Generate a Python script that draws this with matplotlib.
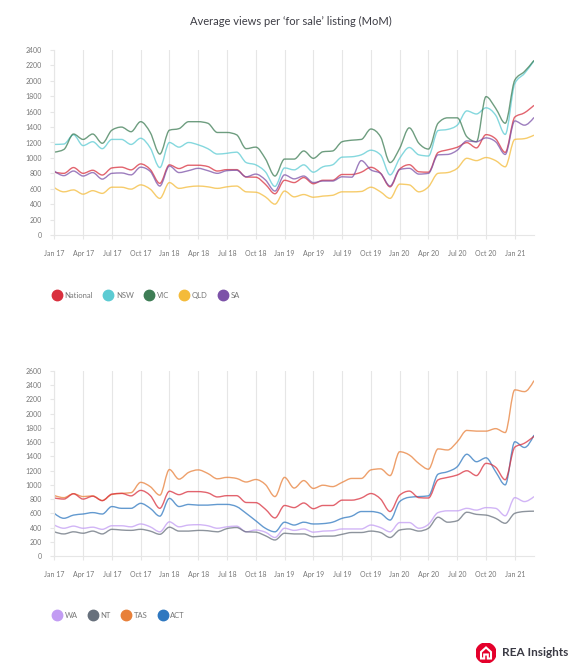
import numpy as np
import matplotlib.pyplot as plt
from matplotlib.lines import Line2D
from matplotlib.patches import Circle, Polygon, PathPatch
from matplotlib.path import Path

# monthly values, Jan 17 .. Mar 21 (51 months)
national = [815, 800, 875, 800, 840, 778, 870, 880, 845, 922, 850, 670, 910, 862, 905, 905, 888, 830, 848, 848, 752, 750, 658, 535, 710, 680,
            745, 665, 710, 710, 785, 785, 815, 878, 802, 625, 855, 912, 820, 815, 1070, 1105, 1138, 1198, 1130, 1302, 1248, 1072, 1530, 1585, 1682]
nsw = [1175, 1180, 1300, 1160, 1210, 1120, 1240, 1240, 1175, 1255, 1130, 875, 1200, 1140, 1200, 1170, 1120, 1050, 1060, 1075, 940, 910, 820, 630, 870, 845,
       910, 815, 885, 910, 1010, 1015, 1040, 1100, 1040, 780, 995, 1135, 1040, 1025, 1355, 1370, 1425, 1610, 1570, 1650, 1555, 1305, 1965, 2095, 2260]
vic = [1075, 1110, 1310, 1240, 1310, 1190, 1360, 1400, 1340, 1470, 1330, 1050, 1360, 1380, 1470, 1470, 1450, 1330, 1330, 1300, 1120, 1140, 990, 765, 985, 985,
       1090, 995, 1080, 1090, 1210, 1230, 1240, 1375, 1275, 940, 1125, 1390, 1190, 1115, 1450, 1520, 1520, 1275, 1210, 1795, 1645, 1450, 2010, 2120, 2265]
qld = [615, 560, 585, 530, 575, 540, 620, 620, 595, 650, 595, 475, 680, 605, 625, 635, 625, 605, 625, 635, 560, 555, 495, 400, 570, 495,
       525, 490, 505, 515, 560, 560, 565, 620, 560, 475, 660, 650, 560, 625, 800, 810, 865, 995, 965, 1005, 965, 885, 1240, 1250, 1295]
sa = [830, 770, 830, 765, 810, 725, 800, 805, 780, 880, 825, 635, 895, 810, 835, 865, 835, 800, 835, 840, 755, 790, 715, 570, 780, 728,
      765, 680, 700, 700, 755, 750, 965, 845, 800, 635, 850, 865, 790, 800, 1040, 1045, 1100, 1220, 1210, 1260, 1210, 1045, 1480, 1425, 1525]
wa = [435, 390, 420, 390, 405, 375, 425, 425, 410, 450, 410, 340, 480, 410, 435, 440, 425, 390, 410, 420, 340, 365, 335, 260, 390, 360,
      380, 335, 350, 355, 380, 380, 380, 435, 400, 340, 470, 470, 390, 445, 610, 635, 635, 670, 645, 680, 670, 565, 820, 765, 835]
nt = [340, 310, 340, 320, 350, 310, 375, 365, 360, 375, 350, 305, 405, 350, 350, 360, 355, 340, 385, 400, 340, 335, 285, 225, 320, 310,
      310, 270, 280, 280, 305, 330, 330, 350, 330, 260, 365, 380, 350, 390, 545, 475, 495, 615, 585, 575, 530, 460, 600, 625, 630]
tas = [850, 820, 875, 835, 845, 780, 865, 880, 890, 1035, 975, 855, 1215, 1080, 1175, 1210, 1160, 1085, 1105, 1090, 1040, 1075, 1005, 835, 1105, 955,
       1060, 950, 995, 975, 1035, 1090, 1090, 1210, 1225, 1130, 1465, 1420, 1300, 1220, 1505, 1490, 1605, 1765, 1755, 1755, 1790, 1735, 2335, 2310, 2465]
act = [600, 530, 575, 590, 610, 590, 695, 670, 670, 740, 670, 560, 810, 695, 725, 715, 715, 725, 725, 695, 600, 495, 390, 340, 475, 435,
       475, 450, 455, 475, 530, 560, 625, 625, 600, 505, 765, 825, 835, 845, 1150, 1185, 1255, 1430, 1325, 1380, 1185, 1000, 1605, 1525, 1700]

tick_labels = ["Jan 17", "Apr 17", "Jul 17", "Oct 17", "Jan 18", "Apr 18", "Jul 18", "Oct 18", "Jan 19",
               "Apr 19", "Jul 19", "Oct 19", "Jan 20", "Apr 20", "Jul 20", "Oct 20", "Jan 21"]

top_names = ["National", "NSW", "VIC", "QLD", "SA"]
top_data = [national, nsw, vic, qld, sa]
top_colors = ["#d9303e", "#5ccbd3", "#3e7d55", "#f4bb3a", "#7c52a8"]
bot_names = ["WA", "NT", "TAS", "ACT"]
bot_data = [wa, nt, tas, act]
bot_colors = ["#c29cf3", "#67707c", "#e8803a", "#2f78c0"]

plt.rcParams['font.family'] = ['Lato', 'DejaVu Sans']
grid_col = "#e6e6e6"
lab_col = "#777777"


def monotone_line(ax, y, color):
    # smooth monotone cubic through the monthly points (drawn as bezier path)
    y = np.asarray(y, dtype=float)
    x = np.arange(len(y), dtype=float)
    s = np.diff(y)
    t = np.zeros(len(y))
    for i in range(1, len(y) - 1):
        p = (s[i - 1] + s[i]) / 2
        t[i] = (np.sign(s[i - 1]) + np.sign(s[i])) * min(abs(s[i - 1]), abs(s[i]), 0.5 * abs(p))
    t[0] = (3 * s[0] - t[1]) / 2
    t[-1] = (3 * s[-1] - t[-2]) / 2
    verts = [(x[0], y[0])]
    codes = [Path.MOVETO]
    for i in range(len(y) - 1):
        d = 1 / 3
        verts += [(x[i] + d, y[i] + d * t[i]), (x[i + 1] - d, y[i + 1] - d * t[i + 1]), (x[i + 1], y[i + 1])]
        codes += [Path.CURVE4] * 3
    ax.add_patch(PathPatch(Path(verts, codes), fill=False, ec=color, lw=1.0, alpha=0.75))


fig = plt.figure(figsize=(5.82, 6.67), dpi=100)
fig.text(0.5, 1 - 21 / 667, "Average views per \u2018for sale\u2019 listing (MoM)", ha="center", va="center",
         fontsize=8, color="#3d3d45")


def setup(ax, ymax):
    ax.set_xlim(0, len(national) - 1)
    ax.set_ylim(0, ymax)
    ax.set_xticks(range(0, len(national), 3))
    ax.set_xticklabels(tick_labels)
    ax.set_yticks(range(0, ymax + 1, 200))
    for s in ["top", "right"]:
        ax.spines[s].set_visible(False)
    for s in ["left", "bottom"]:
        ax.spines[s].set_color(grid_col)
        ax.spines[s].set_linewidth(0.8)
    ax.tick_params(axis="both", colors=grid_col, labelcolor=lab_col, labelsize=5, length=3, width=0.8)
    ax.tick_params(axis="x", pad=8)
    ax.tick_params(axis="y", pad=6)
    ax.grid(axis="x", color=grid_col, lw=0.8)
    ax.set_axisbelow(True)


ax1 = fig.add_axes([54.3 / 582, 1 - 235 / 667, (534 - 54.3) / 582, 185 / 667])
setup(ax1, 2400)
for vals, c in zip(top_data, top_colors):
    monotone_line(ax1, vals, c)

ax2 = fig.add_axes([54.3 / 582, 1 - 556 / 667, (534 - 54.3) / 582, 185 / 667])
setup(ax2, 2600)
for vals, c in zip(bot_data, bot_colors):
    monotone_line(ax2, vals, c)
monotone_line(ax2, national, top_colors[0])


def legend(names, colors, y):
    handles = [Line2D([], [], marker="o", ls="", markersize=7.5, color=c) for c in colors]
    fig.legend(handles, names, loc="center left", bbox_to_anchor=(50 / 582, 1 - y / 667), ncol=len(names),
               frameon=False, fontsize=5.5, labelcolor=lab_col, handletextpad=0.5, columnspacing=1.5,
               handlelength=1.0, borderaxespad=0)


legend(top_names, top_colors, 295)
legend(bot_names, bot_colors, 615)

# REA Insights logo
lax = fig.add_axes([476 / 582, 1 - 663 / 667, 20 / 582, 20 / 667])
lax.set_xlim(-1, 1)
lax.set_ylim(-1, 1)
lax.set_aspect("equal")
lax.axis("off")
lax.add_patch(Circle((0, 0), 1, color="#e4002b"))
lax.add_patch(Polygon([(-0.5, -0.55), (-0.5, 0.1), (0, 0.55), (0.5, 0.1), (0.5, -0.55), (0.18, -0.55),
                       (0.18, -0.15), (-0.18, -0.15), (-0.18, -0.55)], closed=True, fc="none", ec="white", lw=1.5))
fig.text(502 / 582, 1 - 653 / 667, "REA Insights", ha="left", va="center", fontsize=8.5, fontweight="bold",
         color="#3a3a44")

fig.savefig("out.png", dpi=100, facecolor="white")
